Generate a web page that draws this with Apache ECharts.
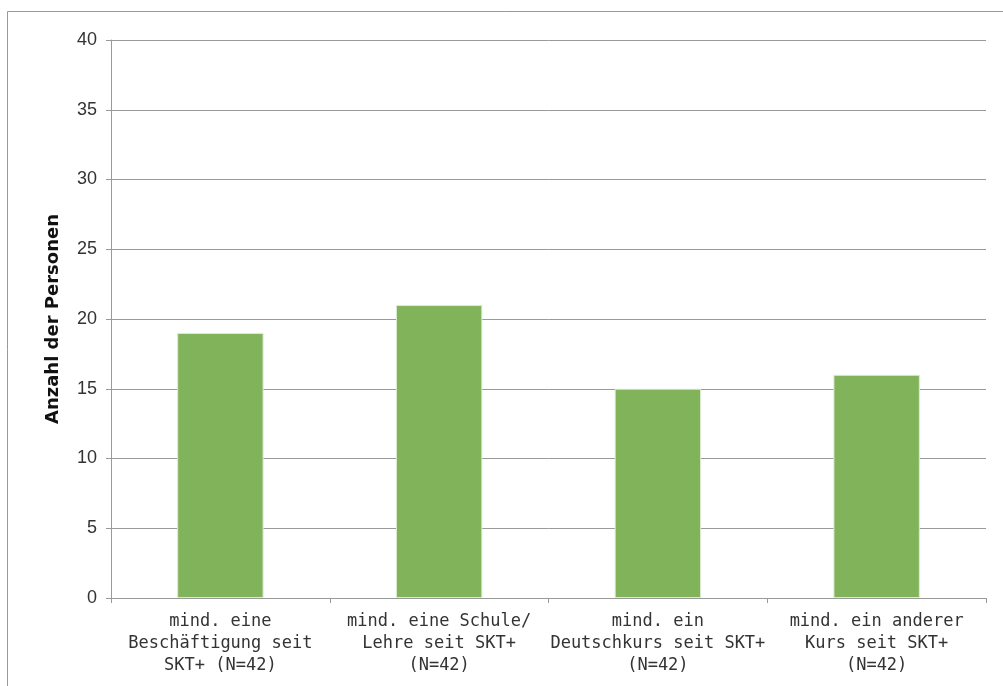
<!DOCTYPE html>
<html><head><meta charset="utf-8">
<script src="https://cdn.jsdelivr.net/npm/echarts@6/dist/echarts.min.js"></script>
<style>html,body{margin:0;padding:0;background:#fff}#c{width:1003px;height:686px}</style>
</head><body><div id="c"></div>
<script>
const categories = [
  "mind. eine\nBeschäftigung seit\nSKT+ (N=42)",
  "mind. eine Schule/\nLehre seit SKT+\n(N=42)",
  "mind. ein\nDeutschkurs seit SKT+\n(N=42)",
  "mind. ein anderer\nKurs seit SKT+\n(N=42)"
];
const values = [19, 21, 15, 16];
const yAxisName = "Anzahl der Personen";

const chart = echarts.init(document.getElementById('c'), null, {renderer: 'canvas'});
chart.setOption({
  animation: false,
  backgroundColor: '#fff',
  graphic: [{
    type: 'rect', shape: {x: 7.5, y: 11.5, width: 1100, height: 800},
    style: {fill: 'none', stroke: '#999', lineWidth: 1}, silent: true, z: -1
  }],
  grid: {left: 111, right: 17, top: 40, bottom: 88, containLabel: false},
  xAxis: {
    type: 'category', data: categories,
    axisLine: {lineStyle: {color: '#999'}},
    axisTick: {show: true, length: 5, lineStyle: {color: '#999'}},
    axisLabel: {color: '#333', fontFamily: 'DejaVu Sans Mono', fontSize: 17, lineHeight: 22, margin: 13, interval: 0}
  },
  yAxis: {
    type: 'value', min: 0, max: 40, interval: 5,
    name: yAxisName, nameLocation: 'middle', nameGap: 49, nameRotate: 90,
    nameTextStyle: {color: '#111', fontFamily: 'DejaVu Sans', fontWeight: 'bold', fontSize: 18},
    axisLine: {show: true, lineStyle: {color: '#999'}},
    axisTick: {show: true, length: 5, lineStyle: {color: '#999'}},
    axisLabel: {color: '#333', fontFamily: 'Liberation Sans', fontSize: 18, margin: 14},
    splitLine: {lineStyle: {color: '#999', width: 1}}
  },
  series: [{
    type: 'bar', data: values, barWidth: '39.5%',
    itemStyle: {color: '#80b35a', borderColor: '#dcebd0', borderWidth: 1}
  }]
});
</script></body></html>
